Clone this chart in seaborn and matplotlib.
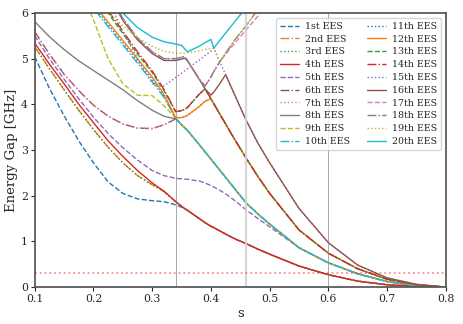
import matplotlib
matplotlib.use("Agg")
import matplotlib.pyplot as plt
import seaborn as sns

# annealing parameter grid
s = [0.10, 0.125, 0.15, 0.175, 0.20, 0.225, 0.25, 0.275, 0.30, 0.32,
     0.34, 0.35, 0.355, 0.36, 0.38, 0.39, 0.40, 0.405, 0.415, 0.425,
     0.44, 0.46, 0.48, 0.50, 0.55, 0.60, 0.65, 0.70, 0.75, 0.80]

labels = ['1st EES', '2nd EES', '3rd EES'] + [f'{k}th EES' for k in range(4, 21)]

ees1 = [5.04, 4.35, 3.75, 3.2, 2.72, 2.3, 2.05, 1.93, 1.89, 1.87,
        1.80, 1.75, 1.72, 1.68, 1.5, 1.41, 1.33, 1.3, 1.23, 1.16,
        1.06, 0.95, 0.83, 0.72, 0.46, 0.27, 0.13, 0.05, 0.015, 0.0]
ees2 = [5.26, 4.78, 4.32, 3.87, 3.45, 3.06, 2.72, 2.44, 2.24, 2.09,
        1.87, 1.77, 1.72, 1.68, 1.5, 1.41, 1.33, 1.3, 1.23, 1.16,
        1.06, 0.95, 0.83, 0.72, 0.46, 0.27, 0.13, 0.05, 0.015, 0.0]
ees3 = [5.26, 4.78, 4.32, 3.87, 3.45, 3.06, 2.72, 2.44, 2.24, 2.09,
        1.87, 1.77, 1.72, 1.68, 1.5, 1.41, 1.33, 1.3, 1.23, 1.16,
        1.06, 0.95, 0.83, 0.72, 0.46, 0.27, 0.13, 0.05, 0.015, 0.0]
ees4 = [5.34, 4.88, 4.45, 4.0, 3.6, 3.2, 2.86, 2.55, 2.28, 2.1,
        1.87, 1.77, 1.72, 1.68, 1.5, 1.41, 1.33, 1.3, 1.23, 1.16,
        1.06, 0.95, 0.83, 0.72, 0.46, 0.27, 0.13, 0.05, 0.015, 0.0]
ees5 = [5.5, 5.0, 4.55, 4.12, 3.72, 3.36, 3.05, 2.78, 2.55, 2.44,
        2.38, 2.37, 2.36, 2.36, 2.32, 2.28, 2.22, 2.19, 2.12, 2.04,
        1.9, 1.69, 1.5, 1.32, 0.86, 0.53, 0.29, 0.12, 0.03, 0.0]
ees6 = [5.59, 5.1, 4.66, 4.3, 3.98, 3.74, 3.57, 3.48, 3.47, 3.55,
        3.68, 3.55, 3.49, 3.43, 3.12, 2.96, 2.8, 2.72, 2.56, 2.4,
        2.16, 1.84, 1.6, 1.38, 0.86, 0.53, 0.29, 0.12, 0.03, 0.0]
ees7 = [5.59, 5.1, 4.66, 4.3, 3.98, 3.74, 3.57, 3.48, 3.47, 3.55,
        3.68, 3.55, 3.49, 3.43, 3.12, 2.96, 2.8, 2.72, 2.56, 2.4,
        2.16, 1.84, 1.6, 1.38, 0.86, 0.53, 0.29, 0.12, 0.03, 0.0]
ees8 = [5.81, 5.48, 5.2, 4.95, 4.74, 4.53, 4.32, 4.08, 3.87, 3.74,
        3.68, 3.55, 3.49, 3.43, 3.12, 2.96, 2.8, 2.72, 2.56, 2.4,
        2.16, 1.84, 1.6, 1.38, 0.86, 0.53, 0.29, 0.12, 0.03, 0.0]
ees9 = [9.0, 8.2, 7.4, 6.6, 5.85, 5.0, 4.45, 4.2, 4.19, 3.97,
        3.7, 3.55, 3.49, 3.43, 3.12, 2.96, 2.8, 2.72, 2.56, 2.4,
        2.16, 1.84, 1.6, 1.38, 0.86, 0.53, 0.29, 0.12, 0.03, 0.0]
ees10 = [8.0, 7.5, 7.0, 6.5, 6.1, 5.7, 5.3, 4.9, 4.5, 4.15,
         3.7, 3.55, 3.49, 3.43, 3.12, 2.96, 2.8, 2.72, 2.56, 2.4,
         2.16, 1.84, 1.6, 1.38, 0.86, 0.53, 0.29, 0.12, 0.03, 0.0]
ees11 = [8.1, 7.6, 7.1, 6.6, 6.15, 5.75, 5.35, 4.95, 4.55, 4.18,
         3.70, 3.71, 3.73, 3.76, 3.95, 4.07, 4.12, 4.01, 3.79, 3.57,
         3.24, 2.82, 2.42, 2.05, 1.25, 0.74, 0.4, 0.17, 0.05, 0.0]
ees12 = [8.2, 7.7, 7.2, 6.7, 6.2, 5.8, 5.4, 5.0, 4.6, 4.22,
         3.71, 3.71, 3.73, 3.76, 3.95, 4.07, 4.12, 4.01, 3.79, 3.57,
         3.24, 2.82, 2.42, 2.05, 1.25, 0.74, 0.4, 0.17, 0.05, 0.0]
ees13 = [8.4, 7.9, 7.4, 6.9, 6.45, 6.0, 5.55, 5.1, 4.7, 4.3,
         3.84, 3.86, 3.89, 3.93, 4.22, 4.34, 4.12, 4.01, 3.79, 3.57,
         3.24, 2.82, 2.42, 2.05, 1.25, 0.74, 0.4, 0.17, 0.05, 0.0]
ees14 = [8.5, 8.0, 7.5, 7.0, 6.5, 6.05, 5.6, 5.15, 4.73, 4.33,
         3.84, 3.86, 3.89, 3.93, 4.22, 4.34, 4.12, 4.01, 3.79, 3.57,
         3.24, 2.82, 2.42, 2.05, 1.25, 0.74, 0.4, 0.17, 0.05, 0.0]
ees15 = [8.6, 8.1, 7.6, 7.1, 6.7, 6.3, 5.6, 5.0, 4.45, 4.4,
         4.59, 4.68, 4.73, 4.78, 4.97, 5.07, 5.16, 5.23, 4.93, 4.65,
         4.22, 3.65, 3.15, 2.72, 1.72, 0.97, 0.48, 0.2, 0.06, 0.0]
ees16 = [9.5, 9.0, 8.4, 7.7, 7.0, 6.42, 5.84, 5.41, 5.11, 4.96,
         4.96, 4.99, 5.01, 4.96, 4.55, 4.34, 4.2, 4.27, 4.45, 4.65,
         4.22, 3.65, 3.15, 2.72, 1.72, 0.97, 0.48, 0.2, 0.06, 0.0]
ees17 = [9.7, 9.1, 8.5, 7.8, 7.05, 6.45, 5.88, 5.45, 5.15, 5.0,
         5.0, 5.03, 5.05, 4.96, 4.55, 4.4, 4.6, 4.72, 4.93, 5.1,
         5.33, 5.63, 5.93, 6.25, 7.0, 7.8, 8.6, 9.4, 10.2, 11.0]
ees18 = [9.7, 9.1, 8.5, 7.8, 7.05, 6.45, 5.88, 5.45, 5.15, 5.0,
         5.0, 5.03, 5.05, 4.96, 4.55, 4.4, 4.6, 4.72, 4.93, 5.12,
         5.4, 5.72, 6.08, 6.45, 7.3, 8.1, 8.9, 9.7, 10.5, 11.3]
ees19 = [8.0, 7.5, 7.0, 6.65, 6.35, 6.0, 5.72, 5.46, 5.27, 5.16,
         5.12, 5.12, 5.12, 5.13, 5.17, 5.2, 5.22, 5.23, 4.93, 5.12,
         5.4, 5.72, 6.08, 6.45, 7.3, 8.1, 8.9, 9.7, 10.5, 11.3]
ees20 = [9.0, 8.4, 7.8, 7.3, 6.9, 6.45, 6.0, 5.68, 5.47, 5.37,
         5.32, 5.29, 5.22, 5.15, 5.27, 5.35, 5.42, 5.23, 5.4, 5.56,
         5.8, 6.12, 6.45, 6.8, 7.7, 8.6, 9.5, 10.4, 11.3, 12.2]

curves = [ees1, ees2, ees3, ees4, ees5, ees6, ees7, ees8, ees9, ees10,
          ees11, ees12, ees13, ees14, ees15, ees16, ees17, ees18, ees19, ees20]

marked_s = [0.34, 0.46, 0.6]
threshold = 0.3

sns.set_theme(style="ticks")
plt.rcParams['font.family'] = ['DejaVu Serif']
plt.rcParams['axes.edgecolor'] = '#555555'

colors = sns.color_palette("tab10")
styles = ['--', '-.', ':', '-']

fig, ax = plt.subplots(figsize=(4.63, 3.24), dpi=100)
fig.subplots_adjust(left=0.075, right=0.963, top=0.96, bottom=0.114)

for i, (vals, lab) in enumerate(zip(curves, labels)):
	sns.lineplot(x=s, y=vals, ax=ax, color=colors[i % 10],
	             linestyle=styles[i % 4], linewidth=1.0, label=lab)

ax.axvline(marked_s[0], color='gray', linewidth=0.6, alpha=0.8)
ax.axvline(marked_s[1], color='lightgray', linewidth=1.6, alpha=0.9)
ax.axvline(marked_s[2], color='gray', linewidth=0.6, alpha=0.8)
ax.axhline(threshold, color='red', linestyle=':', linewidth=1.3, alpha=0.45)

ax.set_xlim(0.1, 0.8)
ax.set_ylim(0, 6)
ax.set_xlabel('s', fontsize=9.5, labelpad=2)
ax.set_ylabel('Energy Gap [GHz]', fontsize=9.5, labelpad=2)
ax.tick_params(labelsize=7.8, length=3, width=0.8, pad=2)
ax.legend(ncol=2, loc='upper right', fontsize=6.8, handlelength=2.0,
          handletextpad=0.65, labelspacing=0.4, columnspacing=1.7,
          borderpad=0.45, framealpha=0.8)

fig.savefig('out.png', dpi=100)
